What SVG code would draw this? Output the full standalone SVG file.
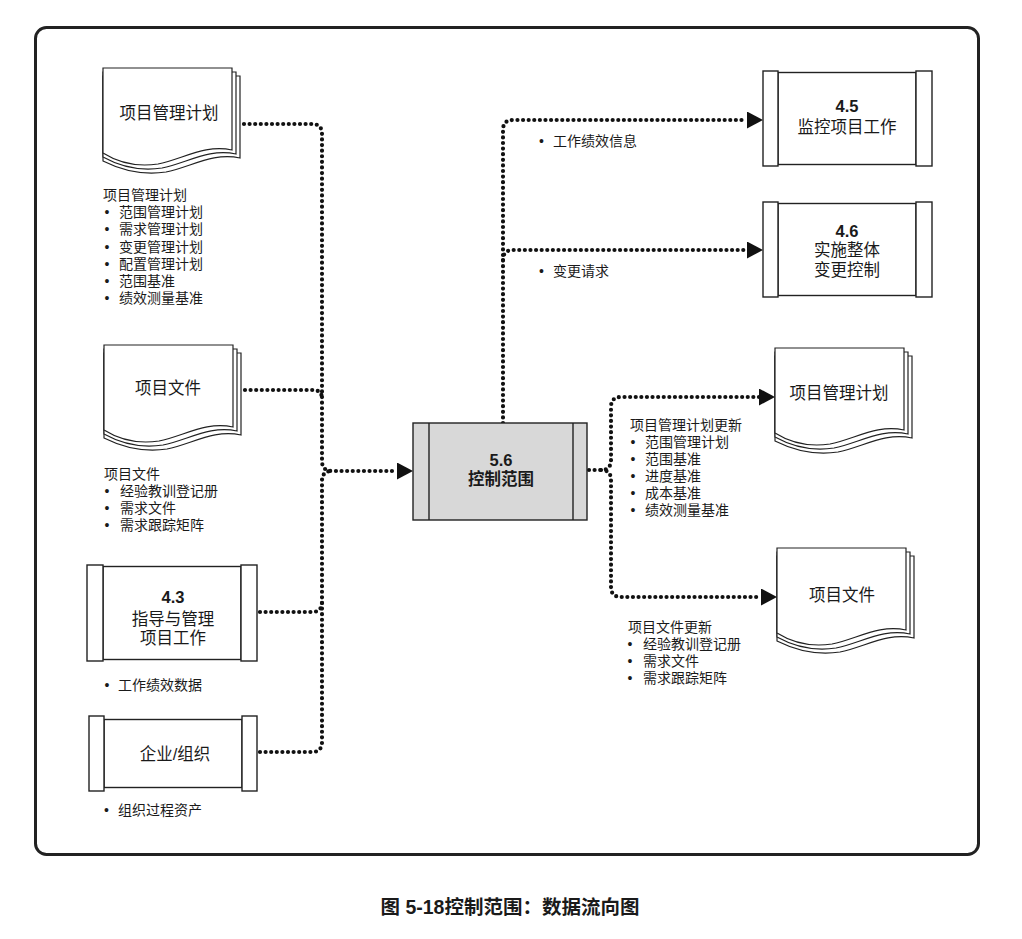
<svg xmlns="http://www.w3.org/2000/svg" xmlns:xlink="http://www.w3.org/1999/xlink" width="1022" height="939" viewBox="0 0 1022 939">
<style>
.frame{fill:#fff;stroke:#222;stroke-width:3}
.box{fill:#fff;stroke:#222;stroke-width:1.4}
.main{fill:#d8d8d8}
.doc{fill:#fff;stroke:#222;stroke-width:1.2}
.flow{fill:none;stroke:#111;stroke-width:4.2;stroke-dasharray:0 5.6;stroke-linecap:round}
text{font-family:"Liberation Sans","Noto Sans CJK SC",sans-serif;fill:#1a1a1a}
.lbl{font-size:16.5px;text-anchor:middle}
.b{font-weight:bold}
.li{font-size:14px}
.cap{font-size:19.5px;font-weight:bold;text-anchor:middle}
</style>
<defs>
<marker id="ah" markerUnits="userSpaceOnUse" markerWidth="16" markerHeight="17" viewBox="0 0 16 17" refX="0" refY="8.5" orient="auto">
<path d="M0,0 L16,8.5 L0,17 Z" fill="#111"/>
</marker>
<g id="docshape">
<path class="doc" d="M0,8 H137 V90 C110,84 88,99 63,104 C43,107 20,103 0,93 Z"/>
<path class="doc" d="M0,4 H133 V86 C106,80 84,95 59,100 C39,103 18,99 0,89 Z"/>
<path class="doc" d="M0,0 H129 V82 C102,76 80,91 55,96 C35,99 16,95 0,85 Z"/>
</g>
</defs>
<rect class="frame" x="35.5" y="27.5" width="943" height="827" rx="11"/>

<g id="connectors">
<path class="flow" d="M244,124 H312 Q322,124 322,134 V461 Q322,471 332,471 H397" marker-end="url(#ah)"/>
<path class="flow" d="M245,390 H313 Q322,390 322,399"/>
<path class="flow" d="M260,612 H312 Q322,612 322,602"/>
<path class="flow" d="M260,752 H312 Q322,752 322,742 V481 Q322,471 332,471"/>
<path class="flow" d="M503,423 V130 Q503,120 513,120 H747" marker-end="url(#ah)"/>
<path class="flow" d="M503,260 Q503,250 513,250 H747" marker-end="url(#ah)"/>
<path class="flow" d="M589,470 H601 Q611,470 611,460 V407 Q611,397 621,397 H759" marker-end="url(#ah)"/>
<path class="flow" d="M601,470 Q611,470 611,480 V587 Q611,597 621,597 H761" marker-end="url(#ah)"/>
</g>

<g id="doc-pmp-in">
<use xlink:href="#docshape" href="#docshape" transform="translate(103,68)"/>
<text class="lbl" x="169" y="118.5">项目管理计划</text>
<text class="li" x="103" y="200">项目管理计划</text>
<text class="li"><tspan x="104.5" y="217">•</tspan><tspan x="119" y="217">范围管理计划</tspan></text>
<text class="li"><tspan x="104.5" y="234">•</tspan><tspan x="119" y="234">需求管理计划</tspan></text>
<text class="li"><tspan x="104.5" y="252">•</tspan><tspan x="119" y="252">变更管理计划</tspan></text>
<text class="li"><tspan x="104.5" y="269">•</tspan><tspan x="119" y="269">配置管理计划</tspan></text>
<text class="li"><tspan x="104.5" y="286">•</tspan><tspan x="119" y="286">范围基准</tspan></text>
<text class="li"><tspan x="104.5" y="303">•</tspan><tspan x="119" y="303">绩效测量基准</tspan></text>
</g>

<g id="doc-pd-in">
<use xlink:href="#docshape" href="#docshape" transform="translate(104,345)"/>
<text class="lbl" x="168" y="394">项目文件</text>
<text class="li" x="104" y="479">项目文件</text>
<text class="li"><tspan x="104.5" y="496">•</tspan><tspan x="120" y="496">经验教训登记册</tspan></text>
<text class="li"><tspan x="104.5" y="513">•</tspan><tspan x="120" y="513">需求文件</tspan></text>
<text class="li"><tspan x="104.5" y="530">•</tspan><tspan x="120" y="530">需求跟踪矩阵</tspan></text>
</g>

<g id="proc-4-3">
<rect class="box" x="103" y="566.5" width="138" height="93"/>
<rect class="box" x="87" y="565" width="16" height="96"/>
<rect class="box" x="241" y="565" width="16" height="96"/>
<text class="lbl b" x="173" y="603">4.3</text>
<text class="lbl" x="173" y="624.5">指导与管理</text>
<text class="lbl" x="173" y="644">项目工作</text>
<text class="li"><tspan x="104.5" y="690">•</tspan><tspan x="118" y="690">工作绩效数据</tspan></text>
</g>

<g id="ent-org">
<rect class="box" x="104" y="719.5" width="138" height="68"/>
<rect class="box" x="89" y="716" width="15" height="75"/>
<rect class="box" x="242" y="716" width="15" height="75"/>
<text class="lbl" x="175" y="760">企业/组织</text>
<text class="li"><tspan x="104" y="815">•</tspan><tspan x="118" y="815">组织过程资产</tspan></text>
</g>

<g id="proc-5-6">
<rect class="box main" x="413" y="423" width="174" height="97"/>
<line class="box" x1="429" y1="423" x2="429" y2="520"/>
<line class="box" x1="573" y1="423" x2="573" y2="520"/>
<text class="lbl b" x="501" y="466">5.6</text>
<text class="lbl b" x="501" y="485">控制范围</text>
</g>

<g id="proc-4-5">
<rect class="box" x="778" y="72.5" width="138" height="92"/>
<rect class="box" x="763" y="71" width="15" height="95"/>
<rect class="box" x="916" y="71" width="16" height="95"/>
<text class="lbl b" x="847" y="112">4.5</text>
<text class="lbl" x="847" y="132.5">监控项目工作</text>
<text class="li"><tspan x="539" y="146">•</tspan><tspan x="553" y="146">工作绩效信息</tspan></text>
</g>

<g id="proc-4-6">
<rect class="box" x="778" y="203.5" width="138" height="92"/>
<rect class="box" x="763" y="202" width="15" height="95"/>
<rect class="box" x="916" y="202" width="16" height="95"/>
<text class="lbl b" x="847" y="237">4.6</text>
<text class="lbl" x="847" y="256">实施整体</text>
<text class="lbl" x="847" y="276">变更控制</text>
<text class="li"><tspan x="539" y="276">•</tspan><tspan x="553" y="276">变更请求</tspan></text>
</g>

<g id="doc-pmp-out">
<use xlink:href="#docshape" href="#docshape" transform="translate(775,348)"/>
<text class="lbl" x="839" y="399">项目管理计划</text>
<text class="li" x="630" y="430">项目管理计划更新</text>
<text class="li"><tspan x="630.5" y="447">•</tspan><tspan x="645" y="447">范围管理计划</tspan></text>
<text class="li"><tspan x="630.5" y="464">•</tspan><tspan x="645" y="464">范围基准</tspan></text>
<text class="li"><tspan x="630.5" y="481">•</tspan><tspan x="645" y="481">进度基准</tspan></text>
<text class="li"><tspan x="630.5" y="498">•</tspan><tspan x="645" y="498">成本基准</tspan></text>
<text class="li"><tspan x="630.5" y="515">•</tspan><tspan x="645" y="515">绩效测量基准</tspan></text>
</g>

<g id="doc-pd-out">
<use xlink:href="#docshape" href="#docshape" transform="translate(777,548)"/>
<text class="lbl" x="842" y="601">项目文件</text>
<text class="li" x="628" y="632">项目文件更新</text>
<text class="li"><tspan x="627.5" y="649">•</tspan><tspan x="643" y="649">经验教训登记册</tspan></text>
<text class="li"><tspan x="627.5" y="666">•</tspan><tspan x="643" y="666">需求文件</tspan></text>
<text class="li"><tspan x="627.5" y="683">•</tspan><tspan x="643" y="683">需求跟踪矩阵</tspan></text>
</g>

<text class="cap" x="510" y="914">图 5-18控制范围：数据流向图</text>
</svg>
